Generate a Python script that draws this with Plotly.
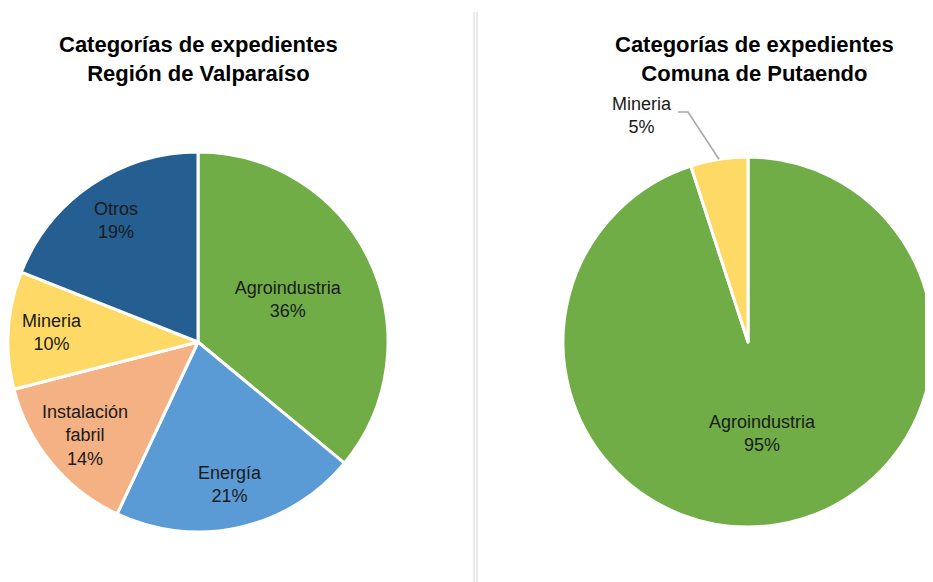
import math
import plotly.graph_objects as go

# datos
region_cats = ["Agroindustria", "Energía", "Instalación<br>fabril", "Mineria", "Otros"]
region_vals = [36, 21, 14, 10, 19]
region_colors = ["#70AD47", "#5B9BD5", "#F4B183", "#FFD966", "#255E91"]

comuna_cats = ["Agroindustria", "Mineria"]
comuna_vals = [95, 5]
comuna_colors = ["#70AD47", "#FFD966"]

titles = ["Categorías de expedientes<br>Región de Valparaíso",
          "Categorías de expedientes<br>Comuna de Putaendo"]

# la pagina tiene 8px de margen en body: se trabaja en coordenadas de pagina
OFF = 8
W, H = 933 - OFF, 582 - OFF
FONT = "Arial, Liberation Sans, sans-serif"
TXT = "#1a1a1a"


def px(x):
    return (x - OFF) / W


def py(y):
    return 1 - (y - OFF) / H


def slice_point(vals, i, cx, cy, r):
    # punto sobre la bisectriz del sector i (sentido horario desde las 12)
    mid = 360 * (sum(vals[:i]) + vals[i] / 2) / sum(vals)
    a = math.radians(mid)
    return cx + r * math.sin(a), cy - r * math.cos(a)


L_CX, L_CY, L_R = 198, 342, 190
R_X0 = 563
R_R = (933 - R_X0) / 2
R_CX, R_CY = R_X0 + R_R, 342

fig = go.Figure()

fig.add_trace(go.Pie(
    labels=region_cats, values=region_vals, sort=False, direction="clockwise", rotation=0,
    marker=dict(colors=region_colors, line=dict(color="white", width=3)),
    texttemplate=["%{label}<br>%{percent:.0%}"] + [""] * (len(region_cats) - 1),
    textposition="inside", insidetextorientation="horizontal",
    textfont=dict(family=FONT, size=18, color=TXT),
    domain=dict(x=[max(0, px(L_CX - L_R)), px(L_CX + L_R)], y=[py(L_CY + L_R), py(L_CY - L_R)]),
    showlegend=False, hoverinfo="label+percent",
))

fig.add_trace(go.Pie(
    labels=comuna_cats, values=comuna_vals, sort=False, direction="clockwise", rotation=0,
    marker=dict(colors=comuna_colors, line=dict(color="white", width=3)),
    texttemplate=["%{label}<br>%{percent:.0%}", ""],
    textposition="inside", insidetextorientation="horizontal",
    textfont=dict(family=FONT, size=18, color=TXT),
    domain=dict(x=[px(R_X0), 1.0], y=[py(R_CY + R_R), py(R_CY - R_R)]),
    showlegend=False, hoverinfo="label+percent",
))

# etiquetas de los sectores menores (region)
for i in range(1, len(region_cats)):
    lx, ly = slice_point(region_vals, i, L_CX, L_CY, 0.77 * L_R)
    fig.add_annotation(x=px(lx), y=py(ly), xref="paper", yref="paper", showarrow=False,
                       xanchor="center", yanchor="middle",
                       text=f"{region_cats[i]}<br>{region_vals[i]}%",
                       font=dict(family=FONT, size=18, color=TXT))

# Mineria (comuna): fuera, con linea guia
ex, ey = slice_point(comuna_vals, 1, R_CX, R_CY, R_R)
lab_x, lab_y = 642, 115
fig.add_annotation(x=px(lab_x), y=py(lab_y), xref="paper", yref="paper", showarrow=False,
                   xanchor="center", yanchor="middle",
                   text=f"{comuna_cats[1]}<br>{comuna_vals[1]}%",
                   font=dict(family=FONT, size=18, color=TXT))
fig.add_shape(type="path", xref="paper", yref="paper",
              path=f"M {px(678)} {py(112)} L {px(688)} {py(112)} L {px(ex)} {py(ey)}",
              line=dict(color="#A6A6A6", width=1.5))

for xc, t in zip([198, 754], titles):
    fig.add_annotation(x=px(xc), y=py(59), xref="paper", yref="paper", showarrow=False,
                       xanchor="center", yanchor="middle",
                       text=f"<b>{t}</b>", font=dict(family=FONT, size=22, color="#000000"))

# separador vertical doble
for xs in [474, 477]:
    fig.add_shape(type="line", xref="paper", yref="paper", x0=px(xs), x1=px(xs),
                  y0=0, y1=py(12), line=dict(color="#D4D4D4", width=1))

fig.update_layout(
    width=W, height=H, margin=dict(l=0, r=0, t=0, b=0),
    paper_bgcolor="white", plot_bgcolor="white",
)

fig.write_html("out.html")
